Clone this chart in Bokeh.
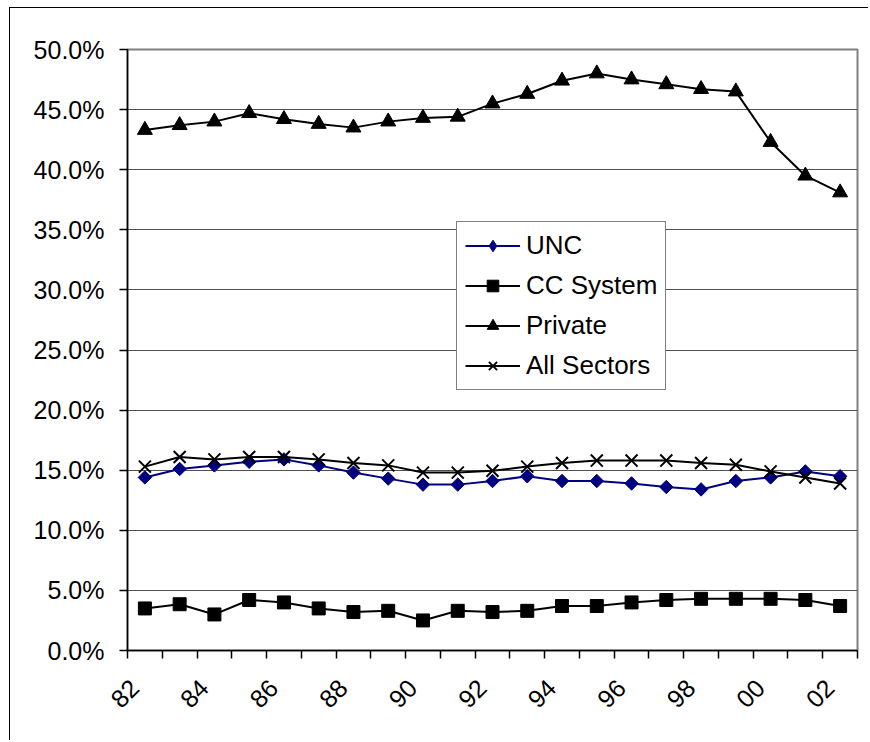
import math
from bokeh.plotting import figure
from bokeh.models import FixedTicker, PrintfTickFormatter, Legend, LegendItem
from bokeh.embed import file_html
from bokeh.resources import INLINE

# ---- data ----
years = list(range(21))  # 1982 .. 2002
tick_labels = ["82", "84", "86", "88", "90", "92", "94", "96", "98", "00", "02"]

unc = [14.4, 15.1, 15.4, 15.7, 15.9, 15.4, 14.8, 14.3, 13.8, 13.8, 14.1,
       14.5, 14.1, 14.1, 13.9, 13.6, 13.4, 14.1, 14.4, 14.9, 14.5]
cc_system = [3.5, 3.85, 3.0, 4.2, 4.0, 3.5, 3.2, 3.3, 2.5, 3.3, 3.2,
             3.3, 3.7, 3.7, 4.0, 4.2, 4.3, 4.3, 4.3, 4.2, 3.7]
private = [43.3, 43.7, 44.0, 44.7, 44.2, 43.8, 43.5, 44.0, 44.3, 44.4, 45.5,
           46.3, 47.4, 48.0, 47.5, 47.1, 46.7, 46.5, 42.3, 39.5, 38.1]
all_sectors = [15.3, 16.1, 15.9, 16.1, 16.1, 15.9, 15.6, 15.4, 14.8, 14.8, 14.95,
               15.3, 15.6, 15.8, 15.8, 15.8, 15.6, 15.45, 14.9, 14.4, 13.9]

y_ticks = [0, 5, 10, 15, 20, 25, 30, 35, 40, 45, 50]

FONT = "Liberation Sans"

p = figure(width=859, height=733, output_backend="svg", toolbar_location=None,
           x_range=(-0.5, 20.5), y_range=(0, 50),
           min_border_left=117, min_border_right=12, min_border_top=41, min_border_bottom=91)
p.styles = {"margin-left": "9px", "margin-top": "7px",
            "border-left": "1.5px solid black", "border-top": "1.5px solid black"}

p.outline_line_color = "#808080"
p.outline_line_width = 2
p.background_fill_color = "white"
p.border_fill_color = "white"

# x axis: labels slightly left of the category centre, ticks at category boundaries
label_shift = 0.3
label_pos = [2 * i - label_shift for i in range(len(tick_labels))]
xt = FixedTicker(ticks=label_pos, minor_ticks=[i - 0.5 for i in range(22)])
p.xaxis.ticker = xt
p.xaxis.major_label_overrides = {pos: lab for pos, lab in zip(label_pos, tick_labels)}
p.xaxis.major_tick_out = 0
p.xaxis.major_tick_in = 0
p.xaxis.minor_tick_out = 8
p.xaxis.minor_tick_in = 0
p.xaxis.minor_tick_line_color = "black"
p.xaxis.minor_tick_line_width = 1.5
p.xaxis.major_label_orientation = math.pi / 4
p.xaxis.major_label_standoff = 25

# y axis
p.yaxis.ticker = FixedTicker(ticks=y_ticks, minor_ticks=[])
p.yaxis.formatter = PrintfTickFormatter(format="%.1f%%")
p.yaxis.major_tick_out = 8
p.yaxis.major_tick_in = 0
p.yaxis.major_label_standoff = 15

for ax in (p.xaxis, p.yaxis):
    ax.axis_line_color = "black"
    ax.axis_line_width = 1.5
    ax.major_tick_line_color = "black"
    ax.major_tick_line_width = 1.5
    ax.major_label_text_font = FONT
    ax.major_label_text_font_size = "25px"
    ax.major_label_text_color = "black"

p.xgrid.visible = False
p.ygrid.ticker = FixedTicker(ticks=y_ticks)
p.ygrid.grid_line_color = "#505050"
p.ygrid.grid_line_width = 1.2

navy = "#000080"

l1 = p.line(years, unc, line_color=navy, line_width=2)
m1 = p.scatter(years, unc, marker="square", angle=math.pi / 4, size=9.5,
               fill_color=navy, line_color=navy)
# legend-only diamond, placed outside the visible range
d1 = p.scatter(x=[-10], y=[-10], marker="diamond", size=13,
               fill_color=navy, line_color=navy)
l2 = p.line(years, cc_system, line_color="black", line_width=2)
m2 = p.scatter(years, cc_system, marker="square", size=13, fill_color="black", line_color="black")
l3 = p.line(years, private, line_color="black", line_width=2)
m3 = p.scatter(years, private, marker="triangle", size=15, fill_color="black", line_color="black")
l4 = p.line(years, all_sectors, line_color="black", line_width=2)
m4 = p.scatter(years, all_sectors, marker="x", size=17, line_color="black", line_width=2)

legend = Legend(items=[
    LegendItem(label="UNC", renderers=[l1, d1]),
    LegendItem(label="CC System", renderers=[l2, m2]),
    LegendItem(label="Private", renderers=[l3, m3]),
    LegendItem(label="All Sectors", renderers=[l4, m4]),
], location=(329, 260))
legend.border_line_color = "black"
legend.border_line_width = 1
legend.background_fill_color = "white"
legend.background_fill_alpha = 1
legend.label_text_font = FONT
legend.label_text_font_size = "26px"
legend.label_text_color = "black"
legend.glyph_width = 55
legend.glyph_height = 29
legend.label_height = 29
legend.label_standoff = 6
legend.spacing = 9
legend.padding = 8
legend.margin = 0
p.add_layout(legend, "center")

open("out.html", "w").write(file_html(p, INLINE))
